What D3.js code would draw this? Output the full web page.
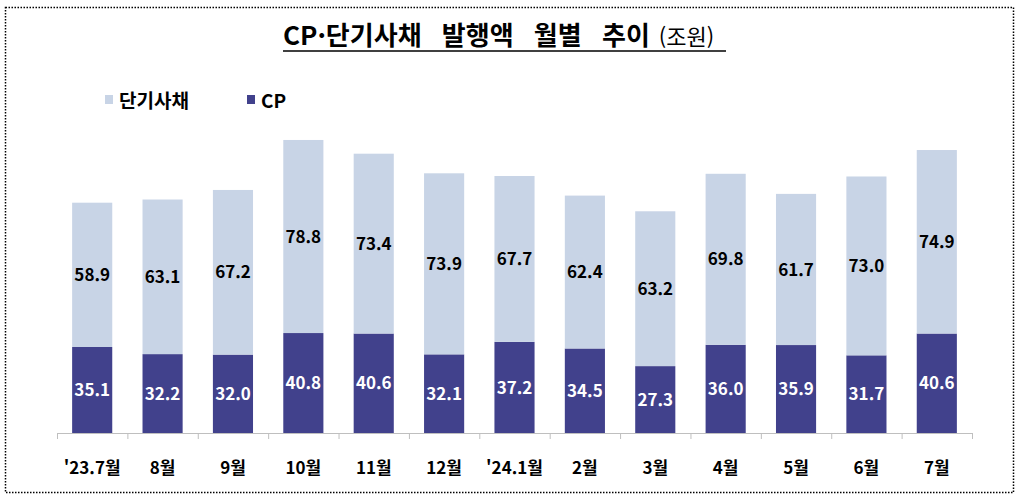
<!DOCTYPE html>
<html lang="ko">
<head>
<meta charset="UTF-8">
<title>CP·단기사채 발행액 월별 추이</title>
<script src="https://d3js.org/d3.v7.min.js"></script>
<style>
    body { margin: 0; background: white; }
    svg { display: block; }
    text { font-family: "Noto Sans CJK KR", sans-serif; }
</style>
</head>
<body>
<div id="chart"></div>
<script>
// 데이터
const months = ["'23.7월", "8월", "9월", "10월", "11월", "12월", "'24.1월", "2월", "3월", "4월", "5월", "6월", "7월"];
const cpValues = [35.1, 32.2, 32.0, 40.8, 40.6, 32.1, 37.2, 34.5, 27.3, 36.0, 35.9, 31.7, 40.6];
const stbValues = [58.9, 63.1, 67.2, 78.8, 73.4, 73.9, 67.7, 62.4, 63.2, 69.8, 61.7, 73.0, 74.9];

const width = 1021, height = 497;
const colStb = "#c8d4e6", colCp = "#41418c";

const svg = d3.select("#chart").append("svg")
    .attr("width", width).attr("height", height);

// 점선 테두리
svg.append("rect")
    .attr("x", 5.5).attr("y", 7.5)
    .attr("width", 1008).attr("height", 485)
    .attr("fill", "none").attr("stroke", "#000")
    .attr("stroke-width", 1.5).attr("stroke-dasharray", "1.5,1.5");

// 제목
const title = svg.append("text").attr("x", 283).attr("y", 45)
    .attr("font-size", 26).attr("font-weight", "bold").attr("fill", "#000")
    .attr("word-spacing", 13);
title.append("tspan").text("CP·단기사채 발행액 월별 추이");
title.append("tspan").attr("dx", 9).attr("font-size", 22).attr("font-weight", "normal").text("(조원)");
svg.append("line").attr("x1", 283).attr("x2", 726).attr("y1", 51).attr("y2", 51)
    .attr("stroke", "#000").attr("stroke-width", 1.5);

// 범례
const legend = [{ name: "단기사채", color: colStb, x: 105 }, { name: "CP", color: colCp, x: 247 }];
legend.forEach(d => {
    svg.append("rect").attr("x", d.x).attr("y", 95).attr("width", 8).attr("height", 9).attr("fill", d.color);
    svg.append("text").attr("x", d.x + 14).attr("y", 108)
        .attr("font-size", 19).attr("font-weight", "bold").attr("fill", "#000").text(d.name);
});

// 스케일
const x = d3.scaleBand().domain(months).range([57, 972]).paddingInner(0.43).paddingOuter(0.215);
const xb = d3.scaleBand().domain(months).range([57, 972]);
const y = d3.scaleLinear().domain([0, 120]).range([433, 139]);

// 축
const axis = svg.append("g");
axis.append("line").attr("x1", 57).attr("x2", 972).attr("y1", 433.5).attr("y2", 433.5)
    .attr("stroke", "#bfbfbf");
axis.selectAll(".tick").data(months.concat(["end"])).enter().append("line")
    .attr("x1", (d, i) => i < months.length ? xb(d) + 0.5 : 972.5)
    .attr("x2", (d, i) => i < months.length ? xb(d) + 0.5 : 972.5)
    .attr("y1", 433).attr("y2", 439).attr("stroke", "#bfbfbf");

// 막대
const rows = months.map((m, i) => ({ m, cp: cpValues[i], stb: stbValues[i] }));

svg.selectAll(".cp").data(rows).enter().append("rect")
    .attr("x", d => x(d.m)).attr("width", x.bandwidth())
    .attr("y", d => y(d.cp)).attr("height", d => y(0) - y(d.cp))
    .attr("fill", colCp);

svg.selectAll(".stb").data(rows).enter().append("rect")
    .attr("x", d => x(d.m)).attr("width", x.bandwidth())
    .attr("y", d => y(d.cp + d.stb)).attr("height", d => y(d.cp) - y(d.cp + d.stb))
    .attr("fill", colStb);

// 값 라벨
svg.selectAll(".lcp").data(rows).enter().append("text")
    .attr("x", d => x(d.m) + x.bandwidth() / 2)
    .attr("y", d => (y(0) + y(d.cp)) / 2)
    .attr("dy", "0.36em").attr("text-anchor", "middle")
    .attr("font-size", 17).attr("font-weight", "bold").attr("fill", "#fff")
    .text(d => d.cp.toFixed(1));

svg.selectAll(".lstb").data(rows).enter().append("text")
    .attr("x", d => x(d.m) + x.bandwidth() / 2)
    .attr("y", d => (y(d.cp) + y(d.cp + d.stb)) / 2)
    .attr("dy", "0.36em").attr("text-anchor", "middle")
    .attr("font-size", 17).attr("font-weight", "bold").attr("fill", "#000")
    .text(d => d.stb.toFixed(1));

// x 라벨
svg.selectAll(".xl").data(months).enter().append("text")
    .attr("x", d => xb(d) + xb.bandwidth() / 2)
    .attr("y", 468).attr("dy", "0.36em").attr("text-anchor", "middle")
    .attr("font-size", 17).attr("font-weight", "bold").attr("fill", "#000")
    .text(d => d);
</script>
</body>
</html>
